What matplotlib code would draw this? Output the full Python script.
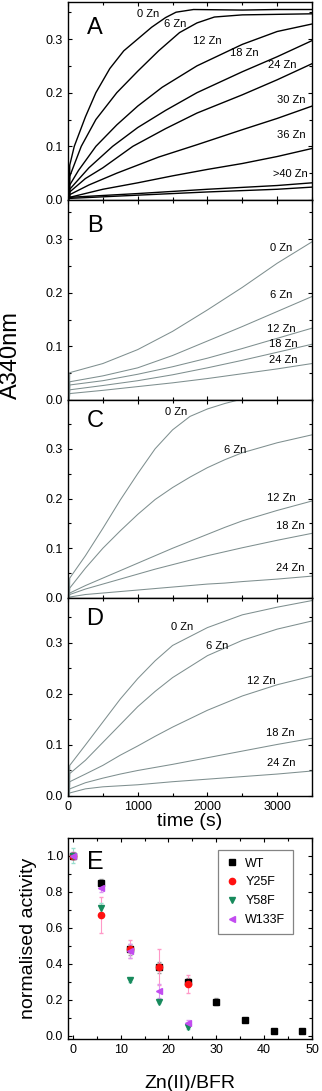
import matplotlib
matplotlib.use("Agg")
import matplotlib.pyplot as plt
from matplotlib.ticker import MultipleLocator

plt.rcParams['font.family'] = ['Liberation Sans', 'DejaVu Sans']

# ---------------- data ----------------
# Panel A: each curve has its own read-off time points (s) and absorbances
A_0_t = [20, 25, 90, 250, 400, 600, 800, 1000, 1200, 1400, 1550, 1800, 2500, 3000, 3500]
A_0_v = [0.004, 0.065, 0.100, 0.155, 0.200, 0.245, 0.278, 0.300, 0.322, 0.340, 0.350, 0.355, 0.354, 0.355, 0.355]
A_6_t = [20, 25, 190, 400, 700, 1000, 1300, 1600, 1850, 2100, 2500, 3000, 3500]
A_6_v = [0.004, 0.044, 0.100, 0.150, 0.200, 0.240, 0.278, 0.312, 0.330, 0.341, 0.345, 0.346, 0.347]
A_12_t = [20, 25, 150, 400, 700, 1000, 1350, 1850, 2500, 3000, 3500]
A_12_v = [0.004, 0.028, 0.055, 0.100, 0.140, 0.175, 0.210, 0.250, 0.290, 0.314, 0.328]
A_18_t = [20, 25, 300, 640, 1000, 1400, 1850, 2500, 3000, 3500]
A_18_v = [0.004, 0.020, 0.060, 0.100, 0.135, 0.167, 0.200, 0.239, 0.267, 0.297]
A_24_t = [20, 25, 250, 500, 930, 1400, 1850, 2500, 3000, 3500]
A_24_v = [0.004, 0.015, 0.040, 0.060, 0.100, 0.133, 0.162, 0.196, 0.224, 0.254]
A_30_t = [20, 25, 300, 700, 1300, 1850, 2500, 3000, 3500]
A_30_v = [0.004, 0.010, 0.028, 0.050, 0.080, 0.103, 0.131, 0.152, 0.175]
A_36_t = [20, 25, 500, 1000, 1500, 2000, 2500, 3000, 3500]
A_36_v = [0.003, 0.005, 0.020, 0.032, 0.045, 0.057, 0.068, 0.081, 0.096]
A_40a_t = [20, 25, 1000, 2000, 3000, 3500]
A_40a_v = [0.003, 0.005, 0.012, 0.020, 0.027, 0.032]
A_40b_t = [20, 25, 1000, 2000, 3000, 3500]
A_40b_v = [0.002, 0.003, 0.009, 0.015, 0.020, 0.024]
A_curves = [(A_0_t, A_0_v), (A_6_t, A_6_v), (A_12_t, A_12_v), (A_18_t, A_18_v),
            (A_24_t, A_24_v), (A_30_t, A_30_v), (A_36_t, A_36_v),
            (A_40a_t, A_40a_v), (A_40b_t, A_40b_v)]
A_labels = ["0 Zn", "6 Zn", "12 Zn", "18 Zn", "24 Zn", "30 Zn", "36 Zn", ">40 Zn"]
A_label_t = [1152, 1534, 1998, 2524, 3078, 3207, 3207, 3193]
A_label_y = [0.347, 0.328, 0.297, 0.274, 0.252, 0.187, 0.121, 0.049]

# Panel B
tB = [20, 25, 500, 1000, 1500, 2000, 2500, 3000, 3500]
B_0 = [0.002, 0.051, 0.068, 0.094, 0.128, 0.168, 0.210, 0.255, 0.295]
B_6 = [0.002, 0.034, 0.045, 0.060, 0.083, 0.110, 0.137, 0.165, 0.193]
B_12 = [0.002, 0.028, 0.036, 0.048, 0.062, 0.078, 0.096, 0.115, 0.134]
B_18 = [0.002, 0.019, 0.027, 0.036, 0.047, 0.060, 0.074, 0.089, 0.104]
B_24 = [0.002, 0.012, 0.018, 0.025, 0.032, 0.040, 0.049, 0.058, 0.068]
B_curves = [(tB, B_0), (tB, B_6), (tB, B_12), (tB, B_18), (tB, B_24)]
B_labels = ["0 Zn", "6 Zn", "12 Zn", "18 Zn", "24 Zn"]
B_label_t = [3064, 3064, 3064, 3088, 3088]
B_label_y = [0.283, 0.196, 0.132, 0.104, 0.075]

# Panel C
tC = [20, 25, 250, 500, 750, 1000, 1250, 1500, 1750, 2000, 2250, 2500, 3000, 3500]
C_0 = [0.002, 0.040, 0.085, 0.140, 0.197, 0.250, 0.300, 0.338, 0.365, 0.380, 0.391, 0.400, 0.410, 0.410]
C_6 = [0.002, 0.020, 0.060, 0.100, 0.135, 0.168, 0.198, 0.222, 0.243, 0.262, 0.278, 0.292, 0.312, 0.328]
C_12 = [0.002, 0.010, 0.025, 0.040, 0.055, 0.070, 0.085, 0.100, 0.114, 0.128, 0.142, 0.155, 0.176, 0.195]
C_18 = [0.002, 0.007, 0.018, 0.028, 0.038, 0.048, 0.058, 0.067, 0.076, 0.085, 0.093, 0.101, 0.116, 0.130]
C_24 = [0.001, 0.002, 0.007, 0.010, 0.013, 0.016, 0.019, 0.022, 0.025, 0.028, 0.030, 0.033, 0.038, 0.044]
C_curves = [(tC, C_0), (tC, C_6), (tC, C_12), (tC, C_18), (tC, C_24)]
C_labels = ["0 Zn", "6 Zn", "12 Zn", "18 Zn", "24 Zn"]
C_label_t = [1558, 2400, 3064, 3183, 3183]
C_label_y = [0.373, 0.297, 0.202, 0.145, 0.061]

# Panel D
tD = [20, 25, 250, 500, 750, 1000, 1250, 1500, 2000, 2500, 3000, 3500]
D_0 = [0.002, 0.060, 0.100, 0.145, 0.190, 0.230, 0.265, 0.295, 0.330, 0.355, 0.370, 0.383]
D_6 = [0.002, 0.044, 0.070, 0.105, 0.140, 0.175, 0.205, 0.232, 0.275, 0.305, 0.327, 0.343]
D_12 = [0.002, 0.028, 0.043, 0.060, 0.080, 0.098, 0.117, 0.135, 0.168, 0.196, 0.218, 0.235]
D_18 = [0.002, 0.014, 0.026, 0.035, 0.043, 0.050, 0.056, 0.062, 0.075, 0.088, 0.101, 0.113]
D_24 = [0.001, 0.006, 0.014, 0.018, 0.020, 0.022, 0.025, 0.028, 0.033, 0.038, 0.043, 0.049]
D_curves = [(tD, D_0), (tD, D_6), (tD, D_12), (tD, D_18), (tD, D_24)]
D_labels = ["0 Zn", "6 Zn", "12 Zn", "18 Zn", "24 Zn"]
D_label_t = [1630, 2141, 2768, 3040, 3054]
D_label_y = [0.332, 0.293, 0.226, 0.124, 0.064]

# Panel E
WT_x = [0, 6, 12, 18, 24, 30, 36, 42, 48]
WT_y = [1.0, 0.85, 0.48, 0.38, 0.30, 0.19, 0.09, 0.03, 0.03]
WT_err = [0.0, 0.02, 0.03, 0.03, 0.02, 0.02, 0.01, 0.01, 0.01]
Y25F_x = [0, 6, 12, 18, 24]
Y25F_y = [1.0, 0.67, 0.48, 0.38, 0.29]
Y25F_err = [0.02, 0.10, 0.05, 0.10, 0.05]
Y58F_x = [0, 6, 12, 18, 24]
Y58F_y = [1.0, 0.71, 0.31, 0.19, 0.05]
Y58F_err = [0.04, 0.03, 0.01, 0.01, 0.01]
W133F_x = [0, 6, 12, 18, 24]
W133F_y = [1.0, 0.82, 0.47, 0.25, 0.07]
W133F_err = [0.02, 0.02, 0.04, 0.04, 0.02]

# ---------------- figure ----------------
W, H = 322, 1091
fig = plt.figure(figsize=(W / 100, H / 100), dpi=100)

def ax_at(top_px, bot_px, left_px=68, right_px=312):
    return fig.add_axes([left_px / W, (H - bot_px) / H, (right_px - left_px) / W, (bot_px - top_px) / H])

def style(ax, tick_fs=9):
    for s in ax.spines.values():
        s.set_linewidth(1.0)
    ax.tick_params(which='both', direction='in', top=True, right=True, labelsize=tick_fs, width=0.8)
    ax.tick_params(which='major', length=3.2)
    ax.tick_params(which='minor', length=2.2)

panels = [
    ("A", 2, 200, 0.369, A_curves, A_labels, A_label_t, A_label_y, 'black', 1.0),
    ("B", 200, 400, 0.373, B_curves, B_labels, B_label_t, B_label_y, '#7f8f8f', 0.75),
    ("C", 400, 598, 0.398, C_curves, C_labels, C_label_t, C_label_y, '#7f8f8f', 0.75),
    ("D", 598, 796, 0.388, D_curves, D_labels, D_label_t, D_label_y, '#7f8f8f', 0.75),
]

for letter, top, bot, ytop, curves, labels, lt, ly, col, lw in panels:
    ax = ax_at(top, bot)
    for t, c in curves:
        ax.plot(t, c, color=col, lw=lw, clip_on=True)
    for lab, x, y in zip(labels, lt, ly):
        ax.text(x, y, lab, fontsize=8, ha='center', va='center')
    ax.set_xlim(0, 3500)
    ax.set_ylim(0, ytop)
    ax.xaxis.set_major_locator(MultipleLocator(1000))
    ax.xaxis.set_minor_locator(MultipleLocator(500))
    ax.yaxis.set_major_locator(MultipleLocator(0.1))
    ax.yaxis.set_minor_locator(MultipleLocator(0.05))
    ax.yaxis.set_major_formatter(plt.FormatStrFormatter('%.1f'))
    style(ax)
    ax.text(0.11, 0.87 if letter in "AB" else 0.895, letter, transform=ax.transAxes,
            fontsize=17, ha='center', va='center')
    if letter != "D":
        ax.tick_params(labelbottom=False)
    else:
        ax.set_xlabel("time (s)", fontsize=14, labelpad=0)

fig.text(11 / W, 1 - 355 / H, "A340nm", rotation=90, fontsize=17, ha='center', va='center')

# Panel E
axE = ax_at(838, 1039)
axE.errorbar(WT_x, WT_y, yerr=WT_err, fmt='s', color='black', ms=4, ecolor='#a0a0a0',
             elinewidth=0.8, capsize=1.5, label='WT')
axE.errorbar(Y25F_x, Y25F_y, yerr=Y25F_err, fmt='o', color='#ff1010', ms=4.5, ecolor='#ff99c8',
             elinewidth=0.8, capsize=1.5, label='Y25F')
axE.errorbar(Y58F_x, Y58F_y, yerr=Y58F_err, fmt='v', color='#178a5c', ms=5, ecolor='#9adfcf',
             elinewidth=0.8, capsize=1.5, label='Y58F')
axE.errorbar(W133F_x, W133F_y, yerr=W133F_err, fmt='<', color='#c24cf0', ms=5, ecolor='#dd99f0',
             elinewidth=0.8, capsize=1.5, label='W133F')
axE.set_xlim(-1, 50)
axE.set_ylim(-0.017, 1.098)
axE.xaxis.set_major_locator(MultipleLocator(10))
axE.xaxis.set_minor_locator(MultipleLocator(5))
axE.yaxis.set_major_locator(MultipleLocator(0.2))
axE.yaxis.set_minor_locator(MultipleLocator(0.1))
axE.yaxis.set_major_formatter(plt.FormatStrFormatter('%.1f'))
style(axE)
axE.text(0.11, 0.88, "E", transform=axE.transAxes, fontsize=18, ha='center', va='center')
axE.set_xlabel("Zn(II)/BFR", fontsize=14, labelpad=14)
axE.set_ylabel("normalised activity", fontsize=14, labelpad=6)
handles, labs = axE.get_legend_handles_labels()
handles = [h[0] for h in handles]
leg = axE.legend(handles, labs, loc='upper right', bbox_to_anchor=(0.922, 0.94), fontsize=9,
                 frameon=True, fancybox=False, borderaxespad=0, handlelength=1.0,
                 handletextpad=0.6, labelspacing=0.55, borderpad=0.6)
leg.get_frame().set_edgecolor('#666666')
leg.get_frame().set_linewidth(0.9)

fig.savefig("out.png", dpi=100)
